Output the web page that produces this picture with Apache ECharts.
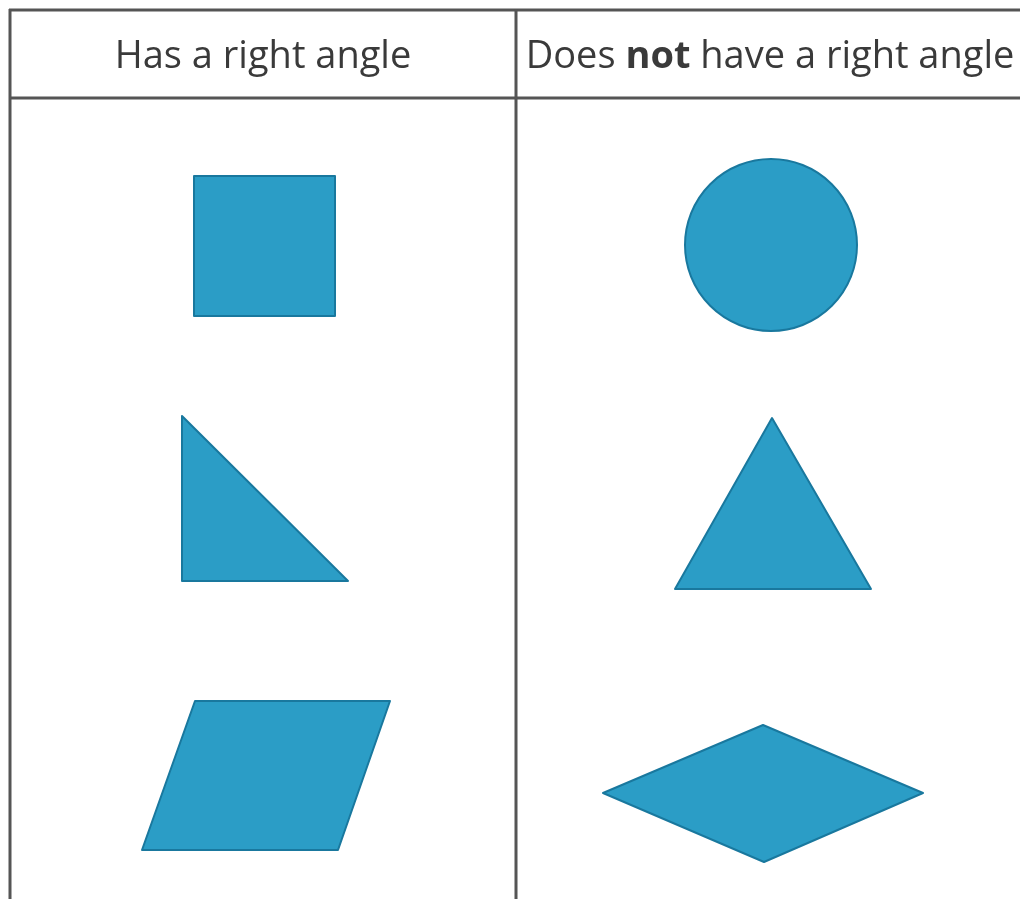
<!DOCTYPE html>
<html>
<head>
<meta charset="utf-8">
<script src="https://cdn.jsdelivr.net/npm/echarts@6/dist/echarts.min.js"></script>
<style>
html, body { margin: 0; padding: 0; background: #fff; }
#main { width: 1020px; height: 899px; }
</style>
</head>
<body>
<div id="main"></div>
<script>
// column headings
var headers = ['Has a right angle', 'Does not have a right angle'];
var headerX = [263, 770];
var headerY = 57;

// table rules [x1, y1, x2, y2]
var rules = [
  [9, 10, 1020, 10],
  [9, 98, 1020, 98],
  [10, 9, 10, 899],
  [516, 9, 516, 899]
];

// shapes, vertices (x right, y down)
var square = [[194, 176], [335, 176], [335, 316], [194, 316]];
var rightTriangle = [[182, 416], [182, 581], [348, 581]];
var parallelogram = [[195, 701], [390, 701], [338, 850], [142, 850]];
var triangle = [[772, 418], [871, 589], [675, 589]];
var rhombus = [[603, 793], [763, 725], [923, 793], [764, 862]];
var circle = [771, 245, 86]; // cx, cy, r

var polygons = [square, rightTriangle, parallelogram, triangle, rhombus];

var fillColor = '#2b9dc6';
var edgeColor = '#19789e';
var ruleColor = '#555555';
var textColor = '#3a3a3a';

var chart = echarts.init(document.getElementById('main'));

chart.setOption({
  backgroundColor: '#ffffff',
  animation: false,
  grid: { left: 0, right: 0, top: 0, bottom: 0 },
  xAxis: { type: 'value', min: 0, max: 1020, show: false },
  yAxis: { type: 'value', min: 0, max: 899, inverse: true, show: false },
  series: [
    {
      type: 'custom',
      name: 'rules',
      clip: false,
      data: rules,
      renderItem: function (params, api) {
        var a = api.coord([api.value(0), api.value(1)]);
        var b = api.coord([api.value(2), api.value(3)]);
        return {
          type: 'line',
          shape: { x1: a[0], y1: a[1], x2: b[0], y2: b[1] },
          style: { stroke: ruleColor, lineWidth: 3 }
        };
      }
    },
    {
      type: 'custom',
      name: 'polygons',
      clip: false,
      data: polygons.map(function (p, i) { return [i]; }),
      renderItem: function (params, api) {
        var pts = polygons[params.dataIndex].map(function (p) { return api.coord(p); });
        return {
          type: 'polygon',
          shape: { points: pts },
          style: { fill: fillColor, stroke: edgeColor, lineWidth: 2, lineJoin: 'round' }
        };
      }
    },
    {
      type: 'custom',
      name: 'circle',
      clip: false,
      data: [circle],
      renderItem: function (params, api) {
        var c = api.coord([api.value(0), api.value(1)]);
        var e = api.coord([api.value(0) + api.value(2), api.value(1)]);
        return {
          type: 'circle',
          shape: { cx: c[0], cy: c[1], r: e[0] - c[0] },
          style: { fill: fillColor, stroke: edgeColor, lineWidth: 2 }
        };
      }
    },
    {
      type: 'custom',
      name: 'headers',
      clip: false,
      data: headers.map(function (h, i) { return [headerX[i], headerY]; }),
      renderItem: function (params, api) {
        var p = api.coord([api.value(0), api.value(1)]);
        var txt = headers[params.dataIndex];
        if (txt.indexOf(' not ') > 0) {
          var parts = txt.split(' not ');
          txt = '{n|' + parts[0] + ' }{b|not}{n| ' + parts[1] + '}';
        } else {
          txt = '{n|' + txt + '}';
        }
        return {
          type: 'text',
          x: p[0],
          y: p[1],
          style: {
            text: txt,
            align: 'center',
            verticalAlign: 'middle',
            fill: textColor,
            rich: {
              n: { fontFamily: 'Open Sans', fontSize: 38, color: textColor },
              b: { fontFamily: 'Open Sans', fontSize: 38, fontWeight: 'bold', color: textColor }
            }
          }
        };
      }
    }
  ]
});
</script>
</body>
</html>
